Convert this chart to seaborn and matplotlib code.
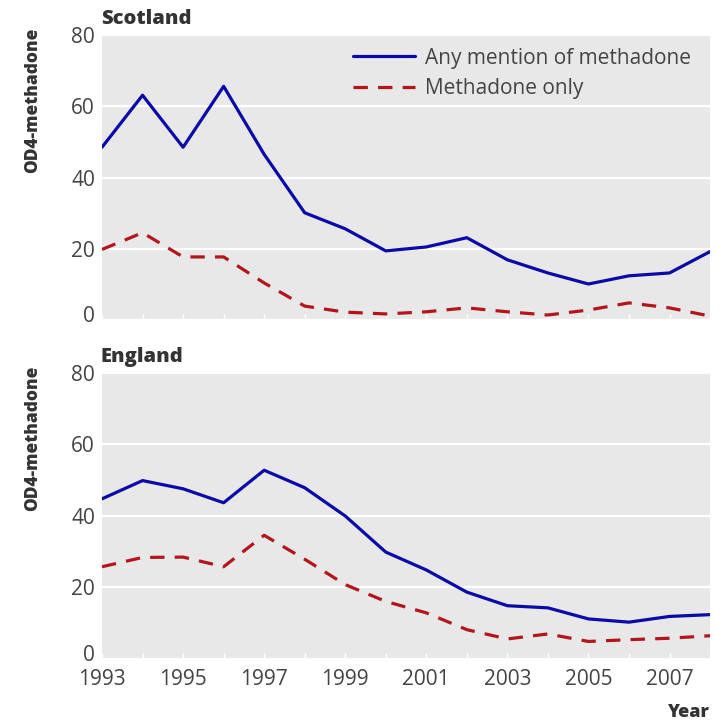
# Import libraries
import seaborn as sns
import matplotlib.pyplot as plt
import matplotlib.transforms as mtransforms
import pandas as pd

# Yearly OD4-methadone values
years = list(range(1993, 2009))
scotland_any = [48.5, 63.1, 48.5, 65.6, 46.5, 30.1, 25.6, 19.4, 20.5, 23.1, 16.9, 13.2, 10.1, 12.4, 13.2, 19.2]
scotland_only = [19.8, 24.5, 17.7, 17.7, 10.4, 3.9, 2.2, 1.7, 2.3, 3.4, 2.3, 1.4, 2.8, 4.8, 3.4, 1.1]
england_any = [44.8, 49.9, 47.6, 43.7, 52.8, 47.9, 40.0, 29.9, 24.9, 18.7, 14.9, 14.3, 11.2, 10.3, 11.9, 12.4]
england_only = [25.8, 28.4, 28.5, 25.8, 34.6, 27.9, 20.8, 16.1, 12.9, 8.2, 5.6, 7.0, 4.9, 5.4, 5.8, 6.5]
tick_years = list(range(1993, 2009, 2))
y_ticks = [0, 20, 40, 60, 80]

series_names = ['Any mention of methadone', 'Methadone only']
panels = ['Scotland', 'England']
values = {
    'Scotland': [scotland_any, scotland_only],
    'England': [england_any, england_only],
}

# Long-form table for seaborn
rows = []
for region in panels:
    for name, vals in zip(series_names, values[region]):
        for yr, v in zip(years, vals):
            rows.append({'region': region, 'series': name, 'year': yr, 'value': v})
df = pd.DataFrame(rows)

sns.set_style('darkgrid', {'axes.facecolor': '#e8e8e8', 'grid.color': 'white'})
plt.rcParams['font.family'] = ['Open Sans', 'DejaVu Sans']

palette = {'Any mention of methadone': '#0a0aa8', 'Methadone only': '#b3151b'}
dashes = {'Any mention of methadone': '', 'Methadone only': (4.5, 3.2)}
text_col = '#444444'

fig = plt.figure(figsize=(7.21, 7.22), dpi=100)
ax1 = fig.add_axes([0.1415, 0.5568, 0.8433, 0.3947])
ax2 = fig.add_axes([0.1415, 0.0873, 0.8433, 0.3961])

for ax, region in zip([ax1, ax2], panels):
    sub = df[df['region'] == region]
    sns.lineplot(data=sub, x='year', y='value', hue='series', style='series',
                 palette=palette, dashes=dashes, linewidth=2.3, ax=ax,
                 legend=(region == 'Scotland'))
    ax.set_xlim(1993, 2008)
    ax.set_ylim(0, 80)
    ax.set_yticks(y_ticks)
    ax.set_xticks(tick_years)
    ax.set_xticks(years, minor=True)
    ax.grid(axis='x', which='both', visible=False)
    ax.grid(axis='y', color='white', linewidth=1.6)
    ax.tick_params(axis='y', length=0, pad=5, labelsize=15, labelcolor=text_col)
    ax.tick_params(axis='x', which='both', direction='in', length=4, width=1,
                   color='white', bottom=True, labelsize=15, labelcolor=text_col, pad=7)
    for s in ax.spines.values():
        s.set_visible(False)
    ax.set_title(region, loc='left', fontsize=14.5, fontweight='heavy',
                 color='#333333', pad=8, x=-0.002)
    ax.set_ylabel('OD4-methadone', fontsize=12.5, fontweight='heavy', color='#333333', loc='top')
    ax.yaxis.set_label_coords(-0.1, 1.025)
    ax.set_xlabel('')

ax1.set_xticklabels([])
ax2.set_xticklabels([str(y) for y in tick_years])
ax2.set_xlabel('Year', loc='right', fontsize=13, fontweight='heavy', color='#333333', labelpad=10)

leg = ax1.legend(loc='upper right', frameon=False, fontsize=15, handlelength=3.0,
                 handletextpad=0.5, labelspacing=0.45, borderaxespad=0.2,
                 bbox_to_anchor=(0.99, 1.0))
for t in leg.get_texts():
    t.set_color(text_col)

# Lift the "0" labels a little, as in the original
fig.canvas.draw()
lift = mtransforms.ScaledTranslation(0, 6 / 100, fig.dpi_scale_trans)
for ax in [ax1, ax2]:
    zero_lab = ax.yaxis.get_major_ticks()[0].label1
    zero_lab.set_transform(zero_lab.get_transform() + lift)

plt.savefig('out.png', dpi=100)
